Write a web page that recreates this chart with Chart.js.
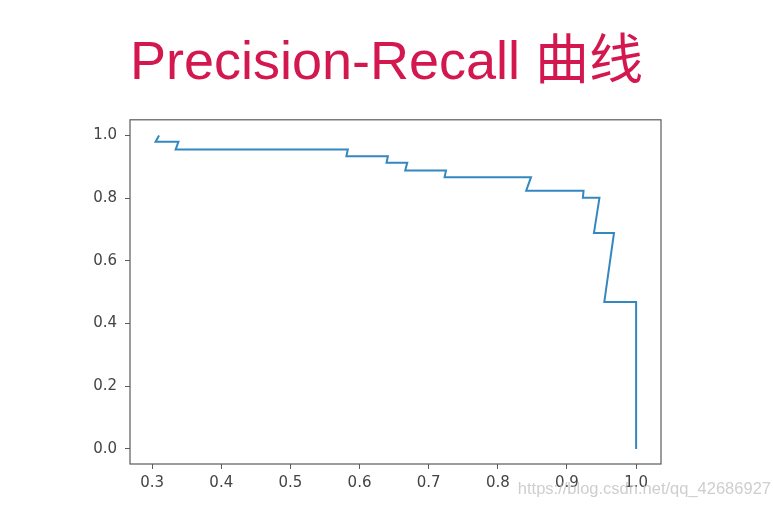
<!DOCTYPE html>
<html>
<head>
<meta charset="utf-8">
<script src="https://cdn.jsdelivr.net/npm/chart.js@4"></script>
<style>
    html, body { margin: 0; padding: 0; background: #ffffff; }
    #pr_curve_wrap { width: 773px; height: 506px; }
</style>
</head>
<body>
<div id="pr_curve_wrap"><canvas id="pr_curve"></canvas></div>
<script>
// points of the curve
const recall = [0.310, 0.305, 0.338, 0.334, 0.583, 0.581, 0.641, 0.639, 0.669, 0.666, 0.725, 0.723,
    0.848, 0.841, 0.924, 0.923, 0.947, 0.939, 0.968, 0.954, 1.0, 1.0];
const precision = [1.0, 0.980, 0.980, 0.955, 0.955, 0.934, 0.934, 0.913, 0.913, 0.888, 0.888, 0.867,
    0.867, 0.824, 0.824, 0.801, 0.801, 0.689, 0.689, 0.469, 0.469, 0.0];

const xTicks = [0.3, 0.4, 0.5, 0.6, 0.7, 0.8, 0.9, 1.0];
const yTicks = [0.0, 0.2, 0.4, 0.6, 0.8, 1.0];

const chartTitle = 'Precision-Recall 曲线';
const watermark = 'https://blog.csdn.net/qq_42686927';

const frameAndMark = {
    id: 'frameAndMark',
    afterDraw(chart) {
        const {ctx, chartArea} = chart;
        ctx.save();
        ctx.strokeStyle = '#5a5a5a';
        ctx.lineWidth = 1.2;
        ctx.strokeRect(chartArea.left, chartArea.top, chartArea.right - chartArea.left, chartArea.bottom - chartArea.top);
        ctx.fillStyle = 'rgba(190, 190, 190, 0.75)';
        ctx.font = '16.5px "Liberation Sans", sans-serif';
        ctx.textAlign = 'right';
        ctx.textBaseline = 'alphabetic';
        ctx.fillText(watermark, 771, 494);
        ctx.restore();
    }
};

const tickFont = {family: '"DejaVu Sans", sans-serif', size: 15};

const ctx = document.getElementById('pr_curve').getContext('2d');
const prChart = new Chart(ctx, {
    type: 'line',
    data: {
        labels: recall,
        datasets: [{
            data: recall.map((r, i) => ({x: r, y: precision[i]})),
            borderColor: '#3388c0',
            borderWidth: 2,
            pointRadius: 0,
            tension: 0,
            fill: false
        }]
    },
    options: {
        responsive: true,
        maintainAspectRatio: false,
        animation: false,
        layout: {padding: 0},
        plugins: {
            legend: {display: false},
            tooltip: {enabled: false},
            title: {
                display: true,
                text: chartTitle,
                color: '#d3174f',
                font: {family: '"Liberation Sans", "Noto Sans CJK SC", sans-serif', size: 54, weight: 'normal'},
                padding: {top: 32, bottom: 23}
            }
        },
        scales: {
            x: {
                type: 'linear',
                min: 0.268,
                max: 1.036,
                afterBuildTicks: function (scale) {
                    scale.ticks = xTicks.map(v => ({value: v}));
                },
                afterFit: function (scale) {
                    scale.height = 42;
                },
                ticks: {
                    color: '#444444',
                    font: tickFont,
                    padding: 5,
                    maxRotation: 0,
                    callback: v => v.toFixed(1)
                },
                grid: {drawOnChartArea: false, tickLength: 5, color: '#5a5a5a'},
                border: {display: false}
            },
            y: {
                type: 'linear',
                min: -0.048,
                max: 1.05,
                afterBuildTicks: function (scale) {
                    scale.ticks = yTicks.map(v => ({value: v}));
                },
                afterFit: function (scale) {
                    scale.width = 130;
                },
                ticks: {
                    color: '#444444',
                    font: tickFont,
                    padding: 8,
                    callback: v => v.toFixed(1)
                },
                grid: {drawOnChartArea: false, tickLength: 5, color: '#5a5a5a'},
                border: {display: false}
            },
            // empty axis that only keeps the space on the right
            spacer: {
                type: 'linear',
                position: 'right',
                display: true,
                afterFit: function (scale) {
                    scale.width = 112;
                },
                ticks: {display: false},
                grid: {display: false},
                border: {display: false}
            }
        }
    },
    plugins: [frameAndMark]
});
</script>
</body>
</html>
